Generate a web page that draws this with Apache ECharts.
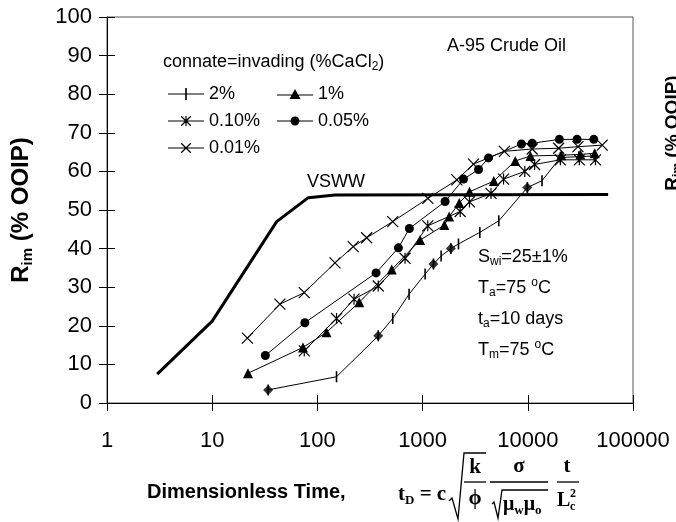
<!DOCTYPE html>
<html><head><meta charset="utf-8">
<script src="https://cdn.jsdelivr.net/npm/echarts@6/dist/echarts.min.js"></script>
<style>html,body{margin:0;padding:0;background:#fff}#c{width:676px;height:522px}</style>
</head><body><div id="c"></div>
<script>
const FONT = 'Liberation Sans';
const SERIF = 'Liberation Serif';

// axis ranges / ticks
const xTickValues = [1, 10, 100, 1000, 10000, 100000];
const yTickValues = [0, 10, 20, 30, 40, 50, 60, 70, 80, 90, 100];

// series: [dimensionless time, Rim %OOIP]
const vswwCurve = [[3, 7.5], [10, 21.2], [41, 47], [82, 53.2], [147, 53.9], [58000, 54]];
const brine2pct = [[34, 3.4], [152, 6.8], [379, 17.4], [520, 21.9], [744, 28.2], [1057, 33.4], [1268, 36], [1500, 38.1], [1857, 40], [2193, 41.2], [3500, 44.2], [5300, 47.2], [9900, 55.8], [13650, 57.6], [20400, 63.6], [30500, 63.8], [43000, 64]];
const brine2pctDiamonds = [[34, 3.4], [379, 17.4], [1268, 36], [1857, 40], [9900, 55.8]];
const brine1pct = [[21.9, 7.7], [73, 14.4], [122, 18.3], [250, 26.1], [509, 34.6], [947, 42.2], [1610, 46.1], [1790, 48.3], [2230, 51.8], [2790, 54.7], [4750, 57.5], [7600, 62.7], [10600, 64], [20800, 64.2], [31600, 64.4], [43300, 64.7]];
const brine010pct = [[75, 13.5], [152, 21.9], [223, 26.9], [379, 30.3], [681, 37.5], [1120, 45.9], [2275, 49.6], [2790, 52.1], [4470, 54.3], [5880, 58], [9360, 60], [11600, 61.8], [20400, 63], [30900, 63], [44000, 63]];
const brine005pct = [[32, 12.3], [76, 20.8], [361, 33.7], [589, 40.2], [749, 45.2], [1637, 52.2], [2450, 58], [3400, 60.5], [4233, 63.5], [8700, 67.1], [11000, 67.3], [19950, 68.3], [29400, 68.3], [42400, 68.3]];
const brine001pct = [[21.6, 16.8], [44, 25.6], [75, 28.6], [147, 36.3], [219, 40.5], [294, 42.8], [520, 47], [1122, 53], [2118, 57.8], [3048, 61.9], [5990, 65.2], [11000, 65.8], [19650, 66], [30000, 66.4], [51000, 66.8]];

const seriesNames = ['2%', '1%', '0.10%', '0.05%', '0.01%'];

const chart = echarts.init(document.getElementById('c'), null, {renderer: 'canvas'});

const ASTER = 'path://M0,0L10,10M10,0L0,10M5,0L5,10';
const CROSS = 'path://M0,0L10,10M10,0L0,10';

function lineSeries(name, data, symbol, size, stroke) {
  return {
    name, type: 'line', data, symbol, symbolSize: size,
    lineStyle: {color: '#000', width: 1},
    itemStyle: stroke ? {color: 'rgba(0,0,0,0)', borderColor: '#000', borderWidth: 1.2}
                      : {color: '#000', borderWidth: 0},
    emphasis: {disabled: true}, animation: false, z: 3
  };
}

// legend icons (filled paths, width 36)
const L1 = 'M0,5.5H36V6.5H0Z';
const icons = {
  '2%': {h: 12, p: 'path://' + L1 + 'M17.2,0H18.8V12H17.2Z'},
  '1%': {h: 10, p: 'path://' + L1 + 'M18,0L23.5,10H12.5Z'},
  '0.10%': {h: 10, p: 'path://M0,4.5H36V5.5H0Z M13,0H13.9L23,9.1V10H22.1L13,0.9Z M23,0V0.9L13.9,10H13V9.1L22.1,0Z M17.4,0H18.6V10H17.4Z'},
  '0.05%': {h: 9, p: 'path://M0,4H36V5H0Z M13.5,4.5A4.5,4.5,0,1,1,22.5,4.5A4.5,4.5,0,1,1,13.5,4.5Z'},
  '0.01%': {h: 10, p: 'path://M0,4.5H36V5.5H0Z M13,0H13.9L23,9.1V10H22.1L13,0.9Z M23,0V0.9L13.9,10H13V9.1L22.1,0Z'}
};
const legendPos = {'2%': [168, 84], '1%': [277, 84], '0.10%': [168, 111], '0.05%': [277, 111], '0.01%': [168, 138]};
const legends = seriesNames.map(n => ({
  data: [{name: n, icon: icons[n].p}],
  left: legendPos[n][0], top: legendPos[n][1],
  padding: 0, itemWidth: 36, itemHeight: icons[n].h, itemGap: 0,
  selectedMode: false, symbolKeepAspect: true,
  itemStyle: {color: '#000', borderWidth: 0},
  textStyle: {fontSize: 18, fontFamily: FONT, color: '#000', lineHeight: 20}
}));

const subRich = {
  sub: {fontSize: 12, fontFamily: FONT, lineHeight: 12, verticalAlign: 'bottom'},
  sup: {fontSize: 12, fontFamily: FONT, lineHeight: 12, verticalAlign: 'top'}
};
function label(x, y, text, size) {
  return {type: 'text', x, y, z: 10, style: {text, rich: subRich, fontSize: size || 18, fontFamily: FONT, fill: '#000', lineHeight: 22, align: 'left', verticalAlign: 'middle'}};
}
const serifRich = {
  sub: {fontSize: 13, fontFamily: SERIF, fontWeight: 'bold', lineHeight: 13, verticalAlign: 'bottom'},
  sup: {fontSize: 13, fontFamily: SERIF, fontWeight: 'bold', lineHeight: 13, verticalAlign: 'top'}
};
function stxt(x, y, text, align, size) {
  return {type: 'text', x, y, z: 10, style: {text, rich: serifRich, fontSize: size || 21, fontFamily: SERIF, fontWeight: 'bold', fill: '#000', lineHeight: 24, align: align || 'center', verticalAlign: 'middle'}};
}
function pl(points, w) {
  return {type: 'polyline', z: 10, shape: {points}, style: {stroke: '#000', lineWidth: w || 1.3, fill: null}};
}

const titleRich = (b, s) => ({
  b: {fontSize: b, fontWeight: 'bold', fontFamily: FONT, color: '#000', fill: '#000', lineHeight: b + 3},
  s: {fontSize: s, fontWeight: 'bold', fontFamily: FONT, color: '#000', fill: '#000', lineHeight: s, verticalAlign: 'bottom'}
});

const option = {
  animation: false,
  backgroundColor: '#fff',
  grid: {left: 107, right: 43, top: 17, bottom: 119, show: true, borderColor: '#555', borderWidth: 1, backgroundColor: 'transparent'},
  title: {text: 'A-95 Crude Oil', left: 447, top: 37, padding: 0, textStyle: {fontSize: 18, fontWeight: 'normal', fontFamily: FONT, color: '#000'}},
  legend: legends,
  xAxis: [{
    type: 'log', logBase: 10, min: xTickValues[0], max: xTickValues[xTickValues.length - 1], position: 'bottom',
    axisLine: {show: true, lineStyle: {color: '#000', width: 1}},
    axisTick: {show: true, inside: false, length: 8, lineStyle: {color: '#000'}},
    axisLabel: {fontSize: 22, fontFamily: FONT, color: '#000', margin: 27, formatter: v => String(Math.round(v))},
    splitLine: {show: false}, minorTick: {show: false}
  }, {
    type: 'log', logBase: 10, min: xTickValues[0], max: xTickValues[xTickValues.length - 1], position: 'bottom',
    axisLine: {show: false}, axisTick: {show: true, inside: true, length: 8, lineStyle: {color: '#000'}},
    axisLabel: {show: false}, splitLine: {show: false}
  }],
  yAxis: [{
    type: 'value', min: yTickValues[0], max: yTickValues[yTickValues.length - 1], interval: 10, position: 'left',
    axisLine: {show: true, lineStyle: {color: '#000', width: 1}},
    axisTick: {show: true, inside: false, length: 8, lineStyle: {color: '#000'}},
    axisLabel: {fontSize: 22, fontFamily: FONT, color: '#000', margin: 15},
    splitLine: {show: false},
    name: '{b|R}{s|im}{b| (% OOIP)}', nameLocation: 'middle', nameGap: 72, nameRotate: 90,
    nameTextStyle: {rich: titleRich(24, 15)}
  }, {
    type: 'value', min: yTickValues[0], max: yTickValues[yTickValues.length - 1], interval: 10, position: 'left',
    axisLine: {show: false}, axisTick: {show: true, inside: true, length: 8, lineStyle: {color: '#000'}},
    axisLabel: {show: false}, splitLine: {show: false}
  }],
  series: [
    {name: 'VSWW', type: 'line', data: vswwCurve, symbol: 'none', lineStyle: {color: '#000', width: 3}, emphasis: {disabled: true}, z: 2},
    lineSeries('2%', brine2pct, 'rect', [1.6, 11], false),
    {name: '2%-diamond', type: 'scatter', data: brine2pctDiamonds, symbol: 'diamond', symbolSize: 10, itemStyle: {color: '#000'}, emphasis: {disabled: true}, z: 4},
    lineSeries('1%', brine1pct, 'triangle', 10, false),
    lineSeries('0.10%', brine010pct, ASTER, 11, true),
    lineSeries('0.05%', brine005pct, 'circle', 9, false),
    lineSeries('0.01%', brine001pct, CROSS, 11, true)
  ],
  graphic: [
    label(163, 62, 'connate=invading (%CaCl{sub|2})'),
    label(307, 182, 'VSWW'),
    label(478, 257, 'S{sub|wi}=25±1%'),
    label(478, 288, 'T{sub|a}=75 {sup|o}C'),
    label(478, 319, 't{sub|a}=10 days'),
    label(478, 350, 'T{sub|m}=75 {sup|o}C'),
    {type: 'text', x: 147, y: 492, z: 10, style: {text: 'Dimensionless Time,', fontSize: 20, fontWeight: 'bold', fontFamily: FONT, fill: '#000', align: 'left', verticalAlign: 'middle'}},
    stxt(398, 495, 't{sub|D} = c', 'left'),
    pl([[449, 501], [452, 498], [458, 519], [464, 453], [486, 453]]),
    stxt(475, 468, 'k'),
    pl([[464, 482], [486, 482]]),
    stxt(475, 499, 'ϕ'),
    stxt(519, 467, 'σ'),
    pl([[490, 482], [548, 482]]),
    pl([[492, 504], [494, 502], [498, 518], [502, 490], [548, 490]]),
    stxt(503, 505, 'μ{sub|w}μ{sub|o}', 'left', 20),
    stxt(567, 467, 't'),
    pl([[557, 482], [579, 482]]),
    stxt(557, 501, 'L', 'left', 20),
    {type: 'text', x: 570, y: 494, z: 10, style: {text: '2', fontSize: 12, fontWeight: 'bold', fontFamily: SERIF, fill: '#000', align: 'left', verticalAlign: 'middle'}},
    {type: 'text', x: 570, y: 507, z: 10, style: {text: 'c', fontSize: 12, fontWeight: 'bold', fontFamily: SERIF, fill: '#000', align: 'left', verticalAlign: 'middle'}},
    {type: 'text', x: 673, y: 133, rotation: Math.PI / 2, z: 10, style: {text: '{b|R}{s|im}{b| (% OOIP)}', rich: titleRich(19, 12), align: 'center', verticalAlign: 'middle'}}
  ]
};
chart.setOption(option);
</script>
</body></html>
